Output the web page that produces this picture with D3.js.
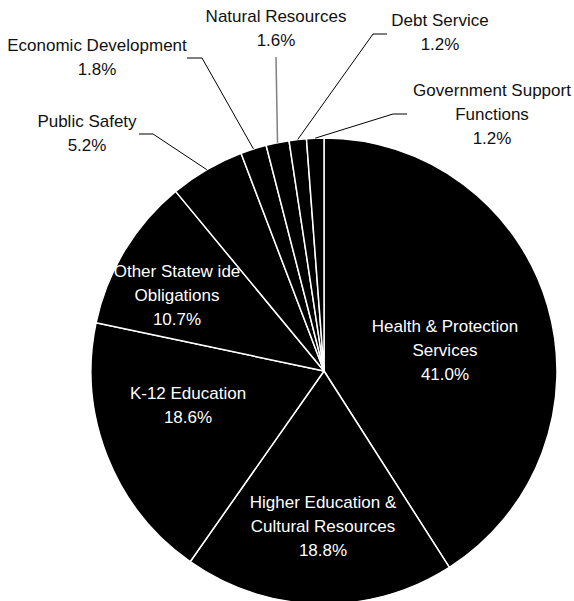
<!DOCTYPE html>
<html>
<head>
<meta charset="utf-8">
<script src="https://cdn.jsdelivr.net/npm/d3@7"></script>
<style>
  body { margin: 0; background: #fff; }
  text { font-family: "Liberation Sans", Arial, sans-serif; font-size: 17px; }
</style>
</head>
<body>
<div id="chart"></div>
<script>
// slices, clockwise from 12 o'clock
const categories = [
  "Health & Protection Services",
  "Higher Education & Cultural Resources",
  "K-12 Education",
  "Other Statewide Obligations",
  "Public Safety",
  "Economic Development",
  "Natural Resources",
  "Debt Service",
  "Government Support Functions"
];
const shares = [41.0, 18.8, 18.6, 10.7, 5.2, 1.8, 1.6, 1.2, 1.2];

// label text as it is wrapped in the picture
const labelLines = [
  ["Health & Protection", "Services"],
  ["Higher Education &", "Cultural Resources"],
  ["K-12 Education"],
  ["Other Statew ide", "Obligations"],
  ["Public Safety"],
  ["Economic Development"],
  ["Natural Resources"],
  ["Debt Service"],
  ["Government Support", "Functions"]
];

const width = 574, height = 601;
const cx = 324, cy = 371, radius = 233;
const lineGap = 24;

// label anchors: centre x, first baseline
const labelAt = [
  [445, 332], [323, 508], [188, 399], [177, 277],
  [87, 127], [97, 51], [276, 22], [440, 26], [492, 96]
];
// leader polylines for the outside labels (label side first)
const leaders = {
  4: [[139, 134], [153, 134]],
  5: [[187, 58], [202, 58]],
  6: [[276, 57]],
  7: [[387, 34], [373, 34]],
  8: [[407, 114], [393, 114]]
};

const svg = d3.select("#chart").append("svg")
  .attr("width", width)
  .attr("height", height);

const pie = d3.pie().sort(null).value(d => d)(shares);
const arc = d3.arc().innerRadius(0).outerRadius(radius);

const g = svg.append("g").attr("transform", `translate(${cx},${cy})`);

g.selectAll("path.slice")
  .data(pie)
  .join("path")
  .attr("class", "slice")
  .attr("d", arc)
  .attr("fill", "#000")
  .attr("stroke", "#fff")
  .attr("stroke-width", 1.5)
  .attr("stroke-linejoin", "round");

const fmt = v => d3.format(".1f")(v) + "%";

//leader lines from label elbow to the arc mid point
const line = d3.line();
pie.forEach((p, i) => {
  if (!leaders[i]) return;
  const mid = (p.startAngle + p.endAngle) / 2;
  const [ax, ay] = d3.pointRadial(mid, radius);
  const pts = leaders[i].concat([[cx + ax, cy + ay]]);
  svg.append("path")
    .attr("d", line(pts))
    .attr("fill", "none")
    .attr("stroke", i === 6 ? "#808080" : "#000")
    .attr("stroke-width", i === 6 ? 1.5 : 1);
});

//labels
pie.forEach((p, i) => {
  const inside = i < 4;
  const lines = labelLines[i].concat([fmt(shares[i])]);
  const t = svg.append("text")
    .attr("text-anchor", "middle")
    .attr("fill", inside ? "#fff" : "#111");
  lines.forEach((s, k) => {
    t.append("tspan")
      .attr("x", labelAt[i][0])
      .attr("y", labelAt[i][1] + k * lineGap)
      .text(s);
  });
});
</script>
</body>
</html>
